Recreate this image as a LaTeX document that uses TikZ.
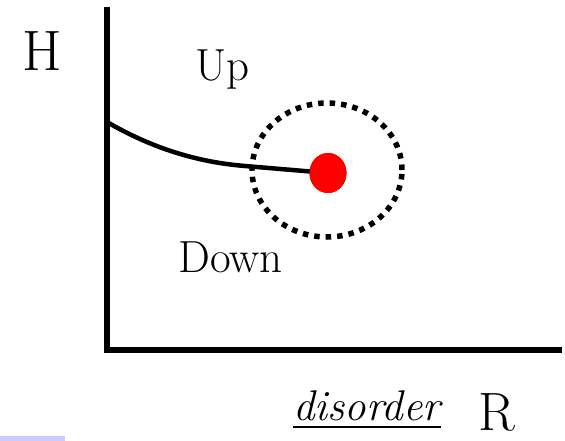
\documentclass[tikz,border=0pt]{standalone}
\usetikzlibrary{positioning,shapes.geometric}
\definecolor{Dotcolor}{HTML}{FF0000}
\definecolor{Stripcolor}{HTML}{CACAFF}

\begin{document}
\begin{tikzpicture}[
  x=1pt, y=-1pt,
  axis/.style={line width=5.5pt, line join=miter},
  flow/.style={line width=4.5pt},
  region/.style={font=\fontsize{45}{50}\selectfont, inner sep=0pt, anchor=base west},
  axlabel/.style={font=\fontsize{57}{60}\selectfont, inner sep=0pt, anchor=base west},
]
  \useasboundingbox (0,0) rectangle (565,441);

  % Axes
  \coordinate (top) at (107,7);
  \coordinate (O) at (107,350);
  \coordinate (right) at (562,350);
  \draw[axis] (top) -- (O) -- (right);

  % Labels
  \node[axlabel] (H) at (22,71) {H};
  \node[region] (Up) at (195,81) {Up};
  \node[region] (Down) at (178,272) {Down};
  \node[font=\fontsize{43}{50}\selectfont\itshape, inner sep=0pt, anchor=base west] (dis) at (293,420) {disorder};
  \draw[line width=2.5pt] ([yshift=-7pt]dis.base west) -- ([yshift=-7pt]dis.base east);
  \node[font=\fontsize{54}{58}\selectfont, inner sep=0pt, anchor=base west] (R) at (478,430) {R};

  % Critical point
  \node[draw, ellipse, dash pattern=on 5.5pt off 6pt, line width=5.5pt,
        minimum width=150pt, minimum height=134pt] (ring) at (327,170) {};
  \coordinate (start) at (107,122);
  \node[ellipse, fill=Dotcolor, minimum width=37pt, minimum height=40pt, inner sep=0pt] (dot) at (328,173) {};
  \draw[flow] (start) .. controls (150,147) and (195,162) .. (245,166) -- (dot.center);
  \node[ellipse, fill=Dotcolor, minimum width=37pt, minimum height=40pt, inner sep=0pt] at (dot) {};

  % Strip
  \fill[Stripcolor] (0,436) rectangle (65,441);
\end{tikzpicture}
\end{document}
